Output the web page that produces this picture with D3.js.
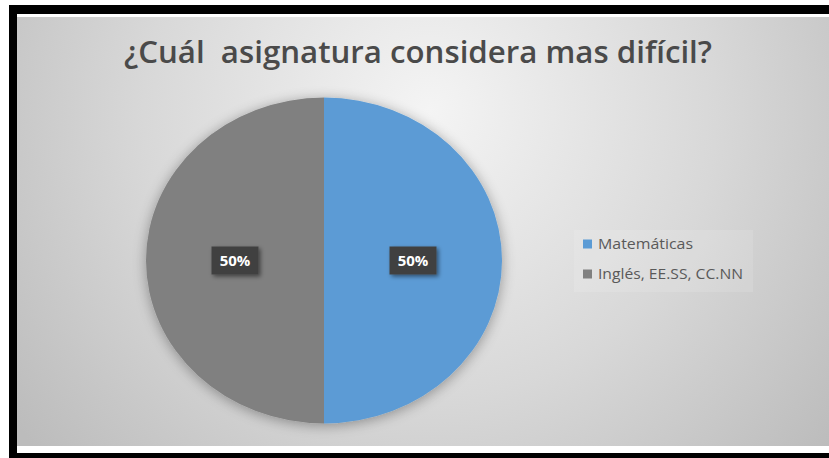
<!DOCTYPE html>
<html>
<head>
<meta charset="utf-8">
<script src="https://cdn.jsdelivr.net/npm/d3@7"></script>
<style>
  html, body { margin: 0; padding: 0; background: #fff; }
  svg { display: block; }
</style>
</head>
<body>
<div id="chart"></div>
<script>
// data
const categories = ["Matemáticas", "Inglés, EE.SS, CC.NN"];
const values = [50, 50];
const colors = ["#5b9bd5", "#808080"];
const title = "¿Cuál  asignatura considera mas difícil?";

const width = 829, height = 458;

const svg = d3.select("#chart").append("svg")
    .attr("width", width)
    .attr("height", height);

const defs = svg.append("defs");

const bg = defs.append("radialGradient")
    .attr("id", "bg")
    .attr("gradientUnits", "userSpaceOnUse")
    .attr("cx", 430).attr("cy", 110).attr("r", 520);
bg.append("stop").attr("offset", "0%").attr("stop-color", "#f4f4f4");
bg.append("stop").attr("offset", "55%").attr("stop-color", "#d8d8d8");
bg.append("stop").attr("offset", "100%").attr("stop-color", "#bcbcbc");

const shadow = defs.append("filter").attr("id", "pieShadow")
    .attr("x", "-20%").attr("y", "-20%").attr("width", "140%").attr("height", "140%");
shadow.append("feGaussianBlur").attr("in", "SourceAlpha").attr("stdDeviation", 7);
shadow.append("feOffset").attr("dx", 0).attr("dy", 2).attr("result", "b");
shadow.append("feComponentTransfer").append("feFuncA").attr("type", "linear").attr("slope", 0.35);
const m = shadow.append("feMerge");
m.append("feMergeNode");
m.append("feMergeNode").attr("in", "SourceGraphic");

const boxShadow = defs.append("filter").attr("id", "boxShadow")
    .attr("x", "-30%").attr("y", "-30%").attr("width", "170%").attr("height", "170%");
boxShadow.append("feGaussianBlur").attr("in", "SourceAlpha").attr("stdDeviation", 2);
boxShadow.append("feOffset").attr("dx", 2).attr("dy", 2);
boxShadow.append("feComponentTransfer").append("feFuncA").attr("type", "linear").attr("slope", 0.5);
const m2 = boxShadow.append("feMerge");
m2.append("feMergeNode");
m2.append("feMergeNode").attr("in", "SourceGraphic");

// frame
svg.append("rect").attr("x", 9).attr("y", 5).attr("width", width - 9).attr("height", height - 5).attr("fill", "#000");
svg.append("rect").attr("x", 17).attr("y", 14).attr("width", width - 17).attr("height", 439).attr("fill", "#fff");
svg.append("rect").attr("x", 17).attr("y", 17).attr("width", width - 17).attr("height", 429).attr("fill", "url(#bg)");

// title
svg.append("text")
    .attr("x", 418).attr("y", 63)
    .attr("text-anchor", "middle")
    .attr("font-family", "'Open Sans', sans-serif")
    .attr("font-weight", 600)
    .attr("font-size", 30)
    .attr("fill", "#4a4a4a")
    .attr("textLength", 588)
    .attr("lengthAdjust", "spacingAndGlyphs")
    .style("white-space", "pre")
    .text(title);

// pie (slightly stretched horizontally, as in the picture)
const cx = 324, cy = 260.5, rx = 178, ry = 163;
const pie = d3.pie().sort(null).value(d => d)(values);
const arc = d3.arc().innerRadius(0).outerRadius(rx);

const pg = svg.append("g")
    .attr("transform", `translate(${cx},${cy}) scale(1,${ry / rx})`)
    .attr("filter", "url(#pieShadow)");
pg.selectAll("path")
    .data(pie)
    .join("path")
    .attr("d", arc)
    .attr("fill", (d, i) => colors[i]);

// data labels
const total = d3.sum(values);
const lab = svg.append("g").selectAll("g")
    .data(pie)
    .join("g")
    .attr("transform", d => {
        const [x, y] = arc.centroid(d);
        return `translate(${cx + x},${cy + y * ry / rx})`;
    });
lab.append("rect")
    .attr("x", -23.5).attr("y", -14).attr("width", 47).attr("height", 28)
    .attr("fill", "#404040")
    .attr("filter", "url(#boxShadow)");
lab.append("text")
    .attr("text-anchor", "middle")
    .attr("dy", "0.36em")
    .attr("font-family", "'Open Sans', sans-serif")
    .attr("font-weight", 700)
    .attr("font-size", 15)
    .attr("fill", "#fff")
    .text(d => d3.format(".0%")(d.value / total));

// legend
const legendWidths = [95, 145];
const legend = svg.append("g").attr("transform", "translate(583,0)");
legend.append("rect")
    .attr("x", -9).attr("y", 230).attr("width", 179).attr("height", 62)
    .attr("fill", "#ffffff").attr("opacity", 0.12);
const li = legend.selectAll("g.item")
    .data(categories)
    .join("g")
    .attr("class", "item")
    .attr("transform", (d, i) => `translate(0,${244 + i * 30})`);
li.append("rect")
    .attr("x", 0).attr("y", -4.5).attr("width", 9).attr("height", 9)
    .attr("fill", (d, i) => colors[i]);
li.append("text")
    .attr("x", 15).attr("dy", "0.36em")
    .attr("font-family", "'Open Sans', sans-serif")
    .attr("font-size", 14)
    .attr("fill", "#595959")
    .attr("textLength", (d, i) => legendWidths[i])
    .attr("lengthAdjust", "spacingAndGlyphs")
    .text(d => d);
</script>
</body>
</html>
